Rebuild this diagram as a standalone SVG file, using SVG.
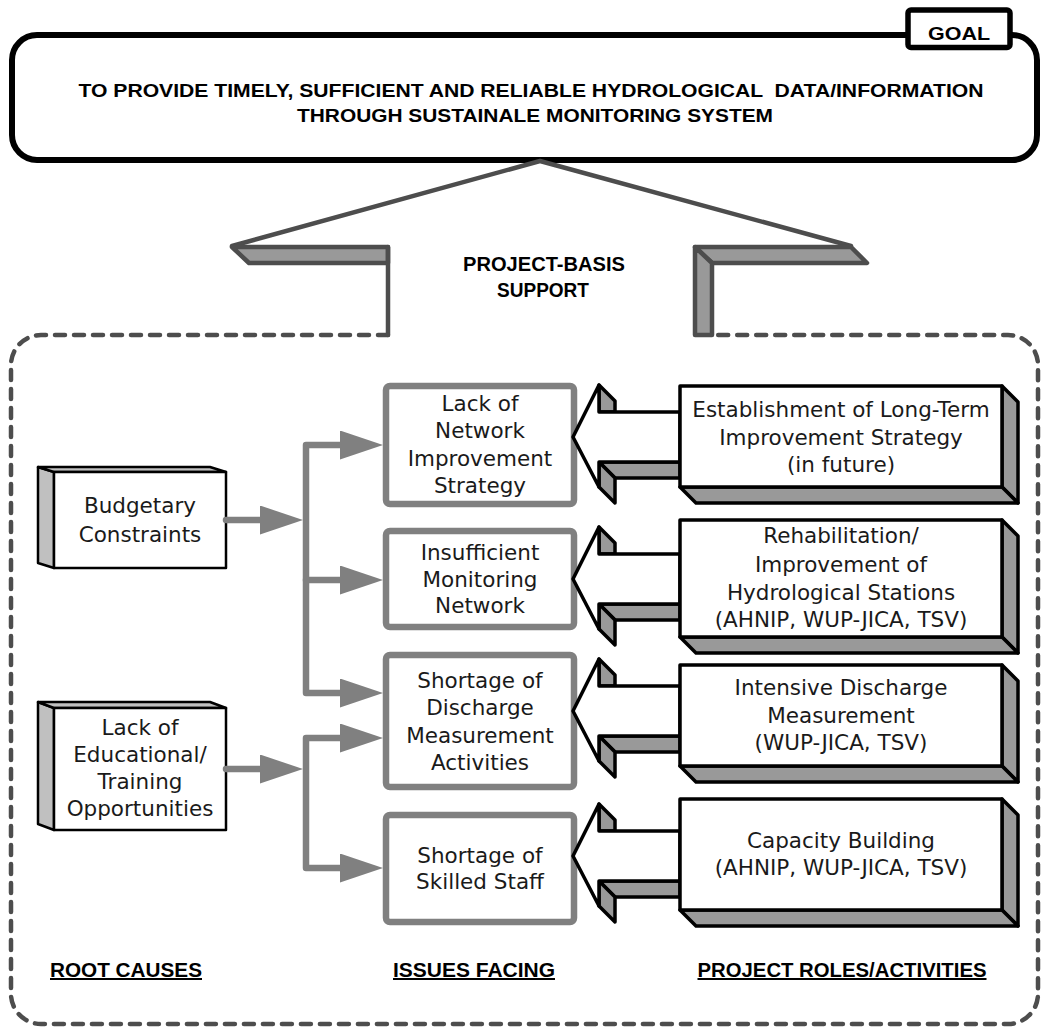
<svg xmlns="http://www.w3.org/2000/svg" xmlns:xlink="http://www.w3.org/1999/xlink" width="1043" height="1030" viewBox="0 0 1043 1030">
<style>
.hd{font-family:"Liberation Sans",Arial,sans-serif;font-weight:bold;fill:#000;text-anchor:middle}
.bx{font-family:"DejaVu Sans","Liberation Sans",sans-serif;font-size:21.5px;fill:#1a1a1a;text-anchor:middle}
.roof{stroke:#4d4d4d;stroke-width:4.5;stroke-linejoin:round;stroke-linecap:round}
.issue{fill:#fff;stroke:#808080;stroke-width:6.5}
.conn{fill:none;stroke:#808080;stroke-width:6.5;stroke-linejoin:round;stroke-linecap:round}
.blk{stroke:#000;stroke-width:3.5;stroke-linejoin:round}
.cause{stroke:#000;stroke-width:2.5;stroke-linejoin:round}
.u{text-decoration:underline}
</style>
<defs>
<marker id="ah" markerUnits="userSpaceOnUse" markerWidth="44" markerHeight="30" refX="20" refY="14.5" orient="auto-start-reverse" viewBox="0 0 44 30">
<path d="M0,0 L43,14.5 L0,29 Z" fill="#808080"/>
</marker>
<g id="blockArrow">
<path class="blk" fill="#999" d="M26,-52 L42,-36 L42,-25 L26,-25 Z"/>
<path class="blk" fill="#999" d="M26,25 L107,25 L107,41 L42,41 Z"/>
<path class="blk" fill="#999" d="M26,25 L42,41 L42,66 L26,50 Z"/>
<path class="blk" fill="#fff" d="M0,0 L26,-52 L26,-25 L107,-25 L107,25 L26,25 L26,50 Z"/>
</g>
</defs>
<rect width="1043" height="1030" fill="#fff"/>

<g id="goal">
<rect x="12" y="35" width="1025" height="125" rx="25" fill="#fff" stroke="#000" stroke-width="6"/>
<text class="hd" x="531" y="97" font-size="19" textLength="905" lengthAdjust="spacingAndGlyphs" xml:space="preserve">TO PROVIDE TIMELY, SUFFICIENT AND RELIABLE HYDROLOGICAL  DATA/INFORMATION</text>
<text class="hd" x="535" y="122" font-size="19" textLength="476" lengthAdjust="spacingAndGlyphs">THROUGH SUSTAINALE MONITORING SYSTEM</text>
</g>
<g id="goal-tab">
<rect x="908" y="10" width="102" height="37.5" rx="3" fill="#fff" stroke="#000" stroke-width="5.5"/>
<text class="hd" x="959" y="40" font-size="18" textLength="62" lengthAdjust="spacingAndGlyphs">GOAL</text>
</g>

<g id="support">
<path class="roof" fill="none" d="M232,246 L540,161 L851,246"/>
<path class="roof" fill="#999" d="M232,247 L388,247 L388,263 L249,263 Z"/>
<path class="roof" fill="none" d="M388,247 L388,335"/>
<path class="roof" fill="#999" d="M695,247 L851,247 L867,263 L712,263 Z"/>
<path class="roof" fill="#999" d="M695,247 L712,263 L712,335 L695,335 Z"/>
<text class="hd" x="544" y="271" font-size="20" textLength="162" lengthAdjust="spacingAndGlyphs">PROJECT-BASIS</text>
<text class="hd" x="543" y="297" font-size="20" textLength="92" lengthAdjust="spacingAndGlyphs">SUPPORT</text>
</g>

<g id="frame">
<path d="M388,335 H41 A30,30 0 0 0 11,365 V994 A30,30 0 0 0 41,1024 H1008 A30,30 0 0 0 1038,994 V365 A30,30 0 0 0 1008,335 H712" fill="none" stroke="#4d4d4d" stroke-width="4.5" stroke-dasharray="10 9" stroke-linecap="round"/>
</g>

<g id="cause-budget">
<path class="cause" fill="#c0c0c0" d="M38,467 L54,472 L54,568 L38,563 Z"/>
<path class="cause" fill="#c0c0c0" d="M38,467 L210,467 L226,472 L54,472 Z"/>
<rect class="cause" x="54" y="472" width="172" height="96" fill="#fff"/>
<text class="bx" x="140" y="513">Budgetary</text>
<text class="bx" x="140" y="542">Constraints</text>
</g>
<g id="cause-education">
<path class="cause" fill="#c0c0c0" d="M38,702 L54,708 L54,830 L38,824 Z"/>
<path class="cause" fill="#c0c0c0" d="M38,702 L210,702 L226,708 L54,708 Z"/>
<rect class="cause" x="54" y="708" width="172" height="122" fill="#fff"/>
<text class="bx" x="140" y="735">Lack of</text>
<text class="bx" x="140" y="762">Educational/</text>
<text class="bx" x="140" y="789">Training</text>
<text class="bx" x="140" y="816">Opportunities</text>
</g>

<g id="issue-strategy">
<rect class="issue" x="386" y="386" width="188" height="118" rx="4"/>
<text class="bx" x="480" y="411">Lack of</text>
<text class="bx" x="480" y="438">Network</text>
<text class="bx" x="480" y="466">Improvement</text>
<text class="bx" x="480" y="493">Strategy</text>
</g>
<g id="issue-network">
<rect class="issue" x="386" y="531" width="188" height="96" rx="4"/>
<text class="bx" x="480" y="560">Insufficient</text>
<text class="bx" x="480" y="587">Monitoring</text>
<text class="bx" x="480" y="613">Network</text>
</g>
<g id="issue-discharge">
<rect class="issue" x="386" y="655" width="188" height="132" rx="4"/>
<text class="bx" x="480" y="688">Shortage of</text>
<text class="bx" x="480" y="715">Discharge</text>
<text class="bx" x="480" y="743">Measurement</text>
<text class="bx" x="480" y="770">Activities</text>
</g>
<g id="issue-staff">
<rect class="issue" x="386" y="815" width="188" height="107" rx="4"/>
<text class="bx" x="480" y="863">Shortage of</text>
<text class="bx" x="480" y="889">Skilled Staff</text>
</g>

<g id="connectors">
<path class="conn" d="M226,520 H280" marker-end="url(#ah)"/>
<path class="conn" d="M360,693 H306 V445 H360" marker-start="url(#ah)" marker-end="url(#ah)"/>
<path class="conn" d="M306,580 H360" marker-end="url(#ah)"/>
<path class="conn" d="M226,769 H280" marker-end="url(#ah)"/>
<path class="conn" d="M360,738 H306 V868 H360" marker-start="url(#ah)" marker-end="url(#ah)"/>
<use xlink:href="#blockArrow" x="573" y="437"/>
<use xlink:href="#blockArrow" x="573" y="579"/>
<use xlink:href="#blockArrow" x="573" y="711"/>
<use xlink:href="#blockArrow" x="573" y="856"/>
</g>

<g id="role-strategy">
<path class="blk" fill="#999" d="M1002,386 L1018,402 L1018,503 L1002,487 Z"/>
<path class="blk" fill="#999" d="M680,487 L1002,487 L1018,503 L696,503 Z"/>
<rect class="blk" x="680" y="386" width="322" height="101" fill="#fff"/>
<text class="bx" x="841" y="417">Establishment of Long-Term</text>
<text class="bx" x="841" y="445">Improvement Strategy</text>
<text class="bx" x="841" y="472">(in future)</text>
</g>
<g id="role-rehab">
<path class="blk" fill="#999" d="M1002,520 L1018,536 L1018,653 L1002,637 Z"/>
<path class="blk" fill="#999" d="M680,637 L1002,637 L1018,653 L696,653 Z"/>
<rect class="blk" x="680" y="520" width="322" height="117" fill="#fff"/>
<text class="bx" x="841" y="543">Rehabilitation/</text>
<text class="bx" x="841" y="572">Improvement of</text>
<text class="bx" x="841" y="600">Hydrological Stations</text>
<text class="bx" x="841" y="627">(AHNIP, WUP-JICA, TSV)</text>
</g>
<g id="role-discharge">
<path class="blk" fill="#999" d="M1002,665 L1018,681 L1018,782 L1002,766 Z"/>
<path class="blk" fill="#999" d="M680,766 L1002,766 L1018,782 L696,782 Z"/>
<rect class="blk" x="680" y="665" width="322" height="101" fill="#fff"/>
<text class="bx" x="841" y="695">Intensive Discharge</text>
<text class="bx" x="841" y="723">Measurement</text>
<text class="bx" x="841" y="750">(WUP-JICA, TSV)</text>
</g>
<g id="role-capacity">
<path class="blk" fill="#999" d="M1002,799 L1018,815 L1018,926 L1002,910 Z"/>
<path class="blk" fill="#999" d="M680,910 L1002,910 L1018,926 L696,926 Z"/>
<rect class="blk" x="680" y="799" width="322" height="111" fill="#fff"/>
<text class="bx" x="841" y="848">Capacity Building</text>
<text class="bx" x="841" y="875">(AHNIP, WUP-JICA, TSV)</text>
</g>

<g id="column-labels">
<text class="hd u" x="126" y="977" font-size="20" textLength="152" lengthAdjust="spacingAndGlyphs">ROOT CAUSES</text>
<text class="hd u" x="474" y="977" font-size="20" textLength="162" lengthAdjust="spacingAndGlyphs">ISSUES FACING</text>
<text class="hd u" x="842" y="977" font-size="20" textLength="289" lengthAdjust="spacingAndGlyphs">PROJECT ROLES/ACTIVITIES</text>
</g>
</svg>
